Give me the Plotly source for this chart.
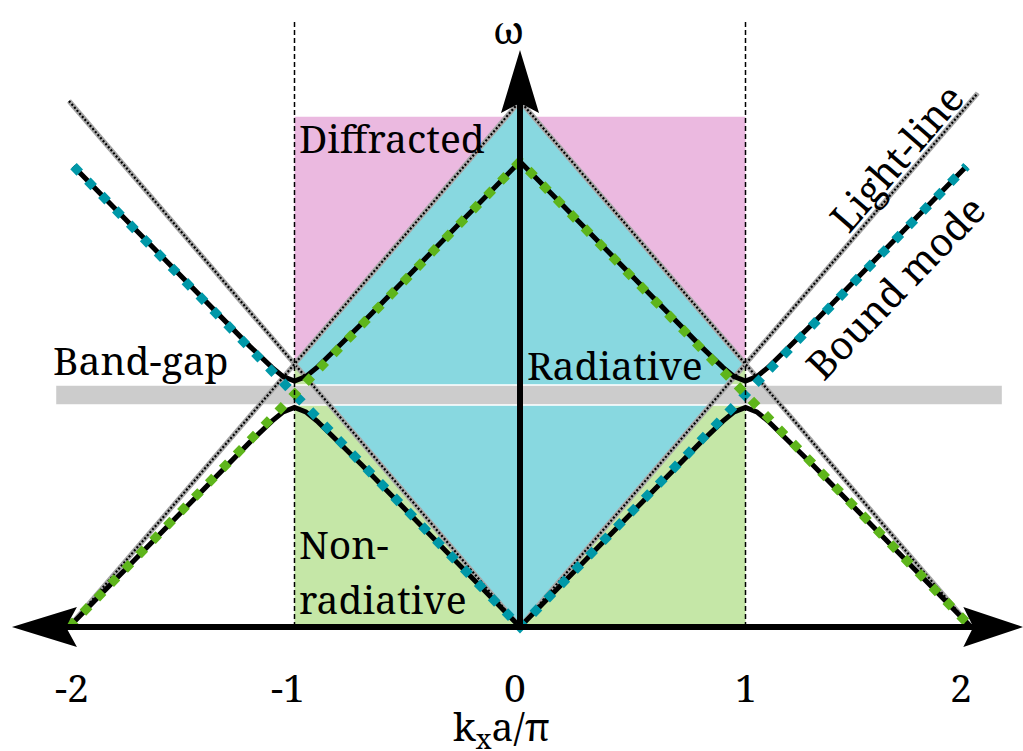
import plotly.graph_objects as go

# ---------------- data ----------------
tick_vals = [-2, -1, 0, 1, 2]
tick_text = ["-2", "-1", "0", "1", "2"]

# regions (kx a/pi, omega)
diffracted_kx = [-1, 1]
diffracted_w = [1.0, 1.94]
nonrad_kx = [-1, 1]
nonrad_w = [0.0, 1.0]
radiative_kx = [0, -1, 0, 1]
radiative_w = [0, 1, 2, 1]
gap_kx = [-2.06, 2.14]
gap_w = [0.844, 0.920]

# light lines
light_kx = [-2.0, 0.0, 2.03]
light_w = [2.0, 0.0, 2.03]
folded_light_kx = [-2.0, 0.0, 2.0]
folded_light_w = [0.0, 2.0, 0.0]

# bound modes (unperturbed)
bound_kx = [-1.98, 0.0, 1.98]
bound_w = [1.752, 0.0, 1.752]
folded_bound_kx = [-2.0, 0.0, 2.0]
folded_bound_w = [0.0, 1.77, 0.0]

# perturbed bands (anticrossing at the zone edge)
upper_kx = [-1.98, -1.3, -1.2, -1.1, -1.05, -1.0, -0.95, -0.9, -0.8, -0.7, 0.0,
            0.7, 0.8, 0.9, 0.95, 1.0, 1.05, 1.1, 1.2, 1.3, 1.98]
upper_w = [1.752, 1.155, 1.069, 0.987, 0.952, 0.935, 0.952, 0.987, 1.069, 1.155, 1.77,
           1.155, 1.069, 0.987, 0.952, 0.935, 0.952, 0.987, 1.069, 1.155, 1.752]
lower_kx = [-2.0, -1.3, -1.2, -1.1, -1.05, -1.0, -0.95, -0.9, -0.8, -0.7, 0.0,
            0.7, 0.8, 0.9, 0.95, 1.0, 1.05, 1.1, 1.2, 1.3, 2.0]
lower_w = [0.0, 0.615, 0.701, 0.783, 0.818, 0.835, 0.818, 0.783, 0.701, 0.615, 0.0,
           0.615, 0.701, 0.783, 0.818, 0.835, 0.818, 0.783, 0.701, 0.615, 0.0]

zone_edges = [-1, 1]

# ---------------- style ----------------
PINK = "#EBB9E0"
CYAN = "#88D8E0"
LGREEN = "#C5E7A7"
GRAY = "#CCCCCC"
TEAL = "#0098A8"
GREEN = "#5EB51B"
FONT = "Noto Serif, DejaVu Serif"
FS = 39
tick_xshift = [3, -7, -5, 0, -10]

fig = go.Figure()


def rect(kx, w, color, line=None):
    xs = [kx[0], kx[1], kx[1], kx[0], kx[0]]
    ys = [w[0], w[0], w[1], w[1], w[0]]
    fig.add_trace(go.Scatter(x=xs, y=ys, mode="lines", fill="toself", fillcolor=color,
                             line=line or dict(width=0, color=color), hoverinfo="skip"))


rect(diffracted_kx, diffracted_w, PINK)
rect(nonrad_kx, nonrad_w, LGREEN)
fig.add_trace(go.Scatter(x=radiative_kx + [radiative_kx[0]], y=radiative_w + [radiative_w[0]],
                         mode="lines", fill="toself", fillcolor=CYAN,
                         line=dict(width=0, color=CYAN), hoverinfo="skip"))
rect(gap_kx, gap_w, GRAY, line=dict(width=1.5, color="white"))

# light lines
for xs, ys in [(light_kx, light_w), (folded_light_kx, folded_light_w)]:
    fig.add_trace(go.Scatter(x=xs, y=ys, mode="lines",
                             line=dict(color="#A8A8A8", width=5), hoverinfo="skip"))
    fig.add_trace(go.Scatter(x=xs, y=ys, mode="lines",
                             line=dict(color="black", width=2.2, dash="2px,2px"), hoverinfo="skip"))

# zone edges (vertical dashed)
for k in zone_edges:
    fig.add_shape(type="line", x0=k, x1=k, y0=0, y1=2.308, xref="x", yref="y",
                  line=dict(color="black", width=1.5, dash="5px,3px"))

# axes lines
fig.add_shape(type="line", x0=-2.2, x1=2.16, y0=0, y1=0, line=dict(color="black", width=6))
fig.add_shape(type="line", x0=0, x1=0, y0=0, y1=2.0, line=dict(color="black", width=6))

# perturbed bands (black)
for xs, ys in [(upper_kx, upper_w), (lower_kx, lower_w)]:
    fig.add_trace(go.Scatter(x=xs, y=ys, mode="lines",
                             line=dict(color="black", width=5), hoverinfo="skip"))

# unperturbed modes (coloured square dashes)
fig.add_trace(go.Scatter(x=bound_kx, y=bound_w, mode="lines",
                         line=dict(color=TEAL, width=9, dash="9px,11px"), hoverinfo="skip"))
fig.add_trace(go.Scatter(x=folded_bound_kx, y=folded_bound_w, mode="lines",
                         line=dict(color=GREEN, width=9, dash="9px,11px"), hoverinfo="skip"))

# arrow heads (pixel-sized, anchored at axis ends)
fig.add_shape(type="path", xref="x", yref="y", xsizemode="pixel", ysizemode="pixel",
              xanchor=0, yanchor=2.194, path="M0,0 L-19,-63 L0,-53 L19,-63 Z",
              fillcolor="black", line=dict(width=0))
fig.add_shape(type="path", xref="x", yref="y", xsizemode="pixel", ysizemode="pixel",
              xanchor=-2.253, yanchor=0, path="M0,0 L65,20 L54,0 L65,-20 Z",
              fillcolor="black", line=dict(width=0))
fig.add_shape(type="path", xref="x", yref="y", xsizemode="pixel", ysizemode="pixel",
              xanchor=2.232, yanchor=0, path="M0,0 L-60,20 L-50,0 L-60,-20 Z",
              fillcolor="black", line=dict(width=0))

# ---------------- text ----------------
def label(text, x, y, xanchor="center", angle=0, xshift=0):
    fig.add_annotation(text=text, x=x, y=y, xref="x", yref="y", showarrow=False,
                       xanchor=xanchor, yanchor="middle", textangle=angle, xshift=xshift,
                       font=dict(family=FONT, size=FS, color="black"))


for v, t, s in zip(tick_vals, tick_text, tick_xshift):
    label(t, v, -0.225, xshift=s)
label("k<sub>x</sub>a/π", -0.08, -0.385)
label("ω", -0.05, 2.275)
label("Diffracted", -0.99, 1.86, xanchor="left")
label("Band-gap", -2.08, 1.018, xanchor="left")
label("Radiative", 0.02, 1.0, xanchor="left")
label("Non-", -0.99, 0.318, xanchor="left")
label("radiative", -0.99, 0.107, xanchor="left")
label("Light-line", 1.663, 1.787, angle=-49)
label("Bound mode", 1.663, 1.293, angle=-46)

fig.update_layout(
    width=1023, height=751,
    margin=dict(l=0, r=0, t=0, b=0),
    paper_bgcolor="white", plot_bgcolor="white",
    showlegend=False,
    font=dict(family=FONT),
    xaxis=dict(range=[-520 / 225.5, (1023 - 520) / 225.5], visible=False, fixedrange=True),
    yaxis=dict(range=[-(751 - 627) / 263.0, 627 / 263.0], visible=False, fixedrange=True),
)

fig.write_html("out.html")
